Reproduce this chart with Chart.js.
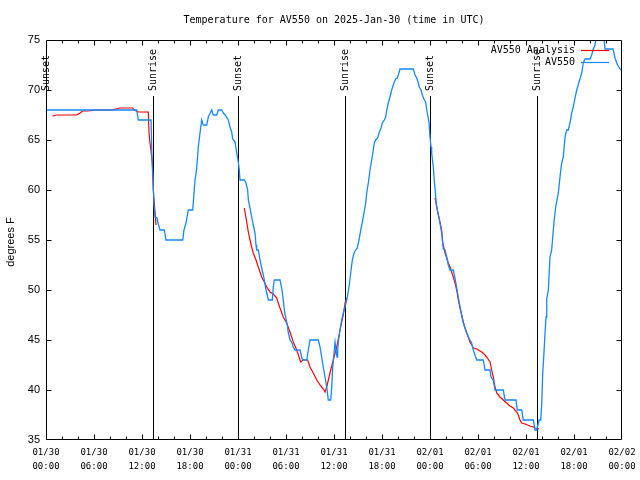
<!DOCTYPE html>
<html><head><meta charset="utf-8">
<script src="https://cdn.jsdelivr.net/npm/chart.js@4/dist/chart.umd.min.js"></script>
<style>html,body{margin:0;padding:0;background:#fff}#wrap{width:640px;height:480px}</style>
</head><body><div id="wrap"><canvas id="c" width="640" height="480"></canvas></div>
<script>
const titleText = 'Temperature for AV550 on 2025-Jan-30 (time in UTC)';
const yAxisTitle = 'degrees F';
const startUTC = Date.UTC(2025, 0, 30, 0, 0);
const seriesNames = ['AV550 Analysis', 'AV550'];

// observations (hours after start, degrees F)
const obsHours = [0,11.34,11.54,13.13,13.25,13.38,13.5,13.63,13.88,14.0,
  14.25,14.79,15.0,17.09,17.25,17.5,17.79,18.34,18.5,18.63,
  18.84,19.04,19.25,19.46,19.66,20.09,20.29,20.71,20.91,21.34,
  21.54,21.96,22.16,22.38,22.79,23.0,23.21,23.34,23.63,23.84,
  24.04,24.16,24.25,24.79,25.0,25.21,25.29,25.5,25.71,25.91,
  26.13,26.25,26.34,26.54,26.75,26.96,27.16,27.29,27.46,27.71,
  27.79,28.29,28.41,28.54,29.25,29.46,29.66,29.79,29.96,30.16,
  30.29,30.5,30.71,30.91,31.13,31.75,31.96,32.09,32.59,32.79,
  33.0,34.04,34.25,34.46,34.66,34.88,35.09,35.29,35.59,35.71,
  35.84,36.0,36.13,36.25,36.38,36.46,36.54,36.75,36.96,37.16,
  37.38,37.59,37.71,37.91,38.09,38.29,38.5,38.71,38.91,39.13,
  39.34,39.54,39.75,39.96,40.09,40.29,40.5,40.71,40.91,41.04,
  41.21,41.46,41.63,41.88,42.04,42.29,42.46,42.59,42.79,43.0,
  43.21,43.54,43.71,43.91,44.04,44.25,45.91,46.13,46.34,46.54,
  46.66,46.88,47.04,47.29,47.46,47.59,47.71,47.88,48.0,48.13,
  48.21,48.41,48.56,48.75,48.91,49.04,49.25,49.46,49.59,49.66,
  49.88,50.09,50.29,50.5,50.91,51.13,51.34,51.54,51.75,51.96,
  52.16,52.38,52.59,52.79,53.0,53.21,53.41,53.63,53.84,54.66,
  54.88,55.5,55.63,55.91,56.13,57.16,57.38,58.75,58.91,59.46,
  59.66,60.91,61.13,61.34,61.63,61.84,61.96,62.09,62.25,62.38,
  62.5,62.59,62.79,63.0,63.21,63.34,63.5,63.71,64.04,64.25,
  64.46,64.66,64.88,65.09,65.29,65.5,65.71,65.91,66.13,66.34,
  66.63,66.96,67.16,67.38,68.0,68.21,68.41,68.63,68.88,69.63,
  69.88,70.88,71.13,71.34,71.66,71.88];
const obsTemps = [68,68,67,67,63,61,58.5,57.3,57.2,56.7,
  56,56,55,55,56,56.7,58,58,59.7,61,
  62.2,64.3,65.7,67,66.5,66.5,67.3,68,67.5,67.5,
  68,68,67.7,67.5,67,66.3,65.8,65.1,64.8,63.7,
  62.8,62,61,61,60.7,60,59,58.2,57.3,56.5,
  55.7,54.5,54,54,53,52.2,51.5,51,50.2,49.3,
  49,49,50.3,51,51,50.2,49,48,47.3,46.5,
  45.7,45,44.8,44.3,44,44,43.3,43,43,44,
  45,45,44.3,43.3,42.3,41.3,40.3,39,39,40.3,
  42.3,43.7,44.8,44,43.3,44,44.8,46,47,47.7,
  48.3,49,49.5,50.5,51.7,53,53.7,54,54.2,55,
  56,56.8,57.7,58.7,59.7,60.7,62,63,64,64.7,
  65,65.2,65.7,66.2,66.7,67,67.3,68,68.7,69.3,
  70,70.8,71.1,71.2,71.5,72.1,72.1,71.5,71.2,70.7,
  70.3,70,69.5,69,68.8,68,67.5,66.7,65.3,64.3,
  63.7,62.3,60.7,59,58,57.5,56.7,55.7,54.7,54.1,
  54,53.3,52.5,52,52,51.2,50.2,49.3,48.3,47.5,
  46.7,46.2,45.7,45.3,45,44.7,44,43.5,43,43,
  42,42,41.3,41,40,40,39,39,38,38,
  37,37,36,36,37,37,38.5,41.7,43.8,45.7,
  47.3,49.1,50,53.3,54,55.3,56.8,58.3,59.7,61.3,
  62.7,63.3,65.3,66,66,66.7,67.7,68.3,69.2,70,
  70.8,71.7,72.7,73.1,73.1,73.5,74.1,74.5,76,76,
  74.1,74.1,73.2,72.7,72.2,72];

// analysis (null = gap between analysis segments)
const anaHours = [0.79,1.34,3.84,4.04,4.25,4.59,5.25,6.25,8.21,9.25,
  10.84,11.04,11.54,12.79,12.88,13.0,13.29,13.41,13.54,13.75,
  19,
  24.79,25.09,25.29,25.5,25.71,25.91,26.25,26.54,26.75,26.96,
  27.29,27.59,28.0,28.41,28.84,29.04,29.25,29.66,30.09,30.5,
  30.91,31.34,31.63,31.84,32.13,32.71,33.0,33.41,33.84,34.25,
  34.66,34.88,35.09,35.5,35.91,36.34,36.75,37.16,37.38,37.59,
  43,
  48.63,48.84,49.46,49.59,49.88,50.09,50.29,50.5,50.71,50.91,
  51.13,51.34,51.54,51.75,51.96,52.16,52.38,52.59,52.79,53.0,
  53.21,53.41,53.84,54.04,54.46,54.88,55.09,55.5,55.71,55.91,
  56.13,56.34,56.75,57.16,57.59,58.0,58.41,58.84,59.04,59.25,
  59.46,59.88,60.5,60.91,61.13,61.66];
const anaTemps = [67.4,67.5,67.5,67.6,67.7,67.9,67.9,68,68,68.2,
  68.2,68,67.8,67.8,65.7,64.7,62.8,60,58.7,56.5,
  null,
  58.2,56.8,55.8,55,54.3,53.7,53,52.3,51.8,51.3,
  50.8,50.3,49.8,49.6,49.2,48.7,48.2,47.3,46.7,45.8,
  44.8,44,43.3,42.8,43,43,42.3,41.7,41,40.5,
  40.1,39.8,40.3,41.7,43,44.3,46,47.5,48.7,49.2,
  null,
  59.2,58.3,56,54.7,53.7,53.2,52.7,52.3,51.8,51.3,
  50.7,50,49,48.2,47.5,46.8,46.2,45.7,45.3,44.8,
  44.5,44.2,44.1,44,43.8,43.5,43.3,42.8,42,41.3,
  40.3,39.7,39.3,39,38.7,38.4,38.2,37.8,37.5,37,
  36.7,36.6,36.4,36.3,36.2,36.1];

// sun events (hours after start)
const eventHours = [0, 13.4, 24.0, 37.4, 48.05, 61.35];
const eventLabels = ['Sunset','Sunrise','Sunset','Sunrise','Sunset','Sunrise'];

const RED = '#ff0000';
const BLUE = '#1488ff';
const MONO = 'DejaVu Sans Mono';
const SANS = 'Liberation Sans';

function pad2(n){ return String(n).padStart(2,'0'); }
function tickLabel(v){
  const d = new Date(startUTC + v*3600000);
  return [pad2(d.getUTCMonth()+1)+'/'+pad2(d.getUTCDate()), pad2(d.getUTCHours())+':'+pad2(d.getUTCMinutes())];
}

const eventsPlugin = {
  id: 'events',
  beforeDatasetsDraw(chart){
    const {ctx, chartArea: a, scales: {x, y}} = chart;
    ctx.save();
    ctx.strokeStyle = '#000'; ctx.lineWidth = 1;
    ctx.fillStyle = '#000';
    ctx.font = '10px "' + MONO + '"';
    eventHours.forEach((h, i) => {
      const px = Math.round(x.getPixelForValue(h)) + 0.5;
      ctx.beginPath();
      ctx.moveTo(px, y.getPixelForValue(69.4));
      ctx.lineTo(px, a.bottom);
      ctx.stroke();
      ctx.save();
      ctx.translate(px, y.getPixelForValue(69.9));
      ctx.rotate(-Math.PI/2);
      ctx.textAlign = 'left'; ctx.textBaseline = 'middle';
      ctx.fillText(eventLabels[i], 0, 0);
      ctx.restore();
    });
    ctx.restore();
  }
};

const framePlugin = {
  id: 'frame',
  afterDatasetsDraw(chart){
    const {ctx, chartArea: a, scales: {x, y}} = chart;
    ctx.save();
    ctx.strokeStyle = '#000'; ctx.lineWidth = 1;
    const L = Math.round(a.left) + 0.5, R = Math.round(a.right) - 0.5;
    const T = Math.round(a.top) + 0.5, B = Math.round(a.bottom) - 0.5;
    ctx.beginPath();
    ctx.rect(L, T, R - L, B - T);
    for (let h = 2; h < 72; h += 2) {
      const px = Math.round(x.getPixelForValue(h)) + 0.5;
      const len = (h % 6 === 0) ? 5 : 3;
      ctx.moveTo(px, B); ctx.lineTo(px, B - len);
      ctx.moveTo(px, T); ctx.lineTo(px, T + len);
    }
    for (let v = 40; v < 75; v += 5) {
      const py = Math.round(y.getPixelForValue(v)) + 0.5;
      ctx.moveTo(L, py); ctx.lineTo(L + 5, py);
      ctx.moveTo(R, py); ctx.lineTo(R - 5, py);
    }
    ctx.stroke();

    // title
    ctx.fillStyle = '#000';
    ctx.font = '10px "' + MONO + '"';
    ctx.textAlign = 'center'; ctx.textBaseline = 'middle';
    ctx.fillText(titleText, (a.left + a.right)/2, 20);

    // y axis title
    ctx.save();
    ctx.font = '11px "' + SANS + '"';
    ctx.translate(11, (a.top + a.bottom)/2 + 2);
    ctx.rotate(-Math.PI/2);
    ctx.textAlign = 'center'; ctx.textBaseline = 'middle';
    ctx.fillText(yAxisTitle, 0, 0);
    ctx.restore();

    // legend
    const colors = [RED, BLUE];
    ctx.font = '10px "' + MONO + '"';
    ctx.textAlign = 'right'; ctx.textBaseline = 'middle';
    seriesNames.forEach((n, i) => {
      const yy = 50 + i*12;
      ctx.fillStyle = '#000';
      ctx.fillText(n, 575, yy);
      ctx.strokeStyle = colors[i]; ctx.lineWidth = 1.2;
      ctx.beginPath(); ctx.moveTo(581, yy + 0.5); ctx.lineTo(609, yy + 0.5); ctx.stroke();
    });
    ctx.restore();
  }
};

new Chart(document.getElementById('c').getContext('2d'), {
  type: 'line',
  data: {
    datasets: [
      { label: seriesNames[1], data: obsHours.map((h, i) => ({x: h, y: obsTemps[i]})),
        borderColor: BLUE, borderWidth: 1.3, pointRadius: 0, tension: 0, fill: false },
      { label: seriesNames[0], data: anaHours.map((h, i) => ({x: h, y: anaTemps[i]})),
        borderColor: RED, borderWidth: 1.2, pointRadius: 0, tension: 0, fill: false, spanGaps: false }
    ]
  },
  options: {
    responsive: false, animation: false, events: [],
    layout: { padding: { left: 0, right: 18, top: 40, bottom: 0 } },
    plugins: { legend: { display: false }, title: { display: false }, tooltip: { enabled: false } },
    scales: {
      x: {
        type: 'linear', min: 0, max: 72,
        grid: { display: false, drawTicks: false }, border: { display: false },
        ticks: { stepSize: 6, autoSkip: false, maxRotation: 0, padding: 6, color: '#000',
          font: { family: MONO, size: 9, lineHeight: 1.5 }, callback: (v) => tickLabel(v) },
        afterFit: (s) => { s.height = 40; s.paddingLeft = 0; s.paddingRight = 0; }
      },
      y: {
        min: 35, max: 75,
        grid: { display: false, drawTicks: false }, border: { display: false },
        ticks: { stepSize: 5, padding: 6, color: '#000', font: { family: SANS, size: 11 } },
        afterFit: (s) => { s.width = 46; s.paddingTop = 0; s.paddingBottom = 0; }
      }
    }
  },
  plugins: [eventsPlugin, framePlugin]
});
</script>
</body></html>
